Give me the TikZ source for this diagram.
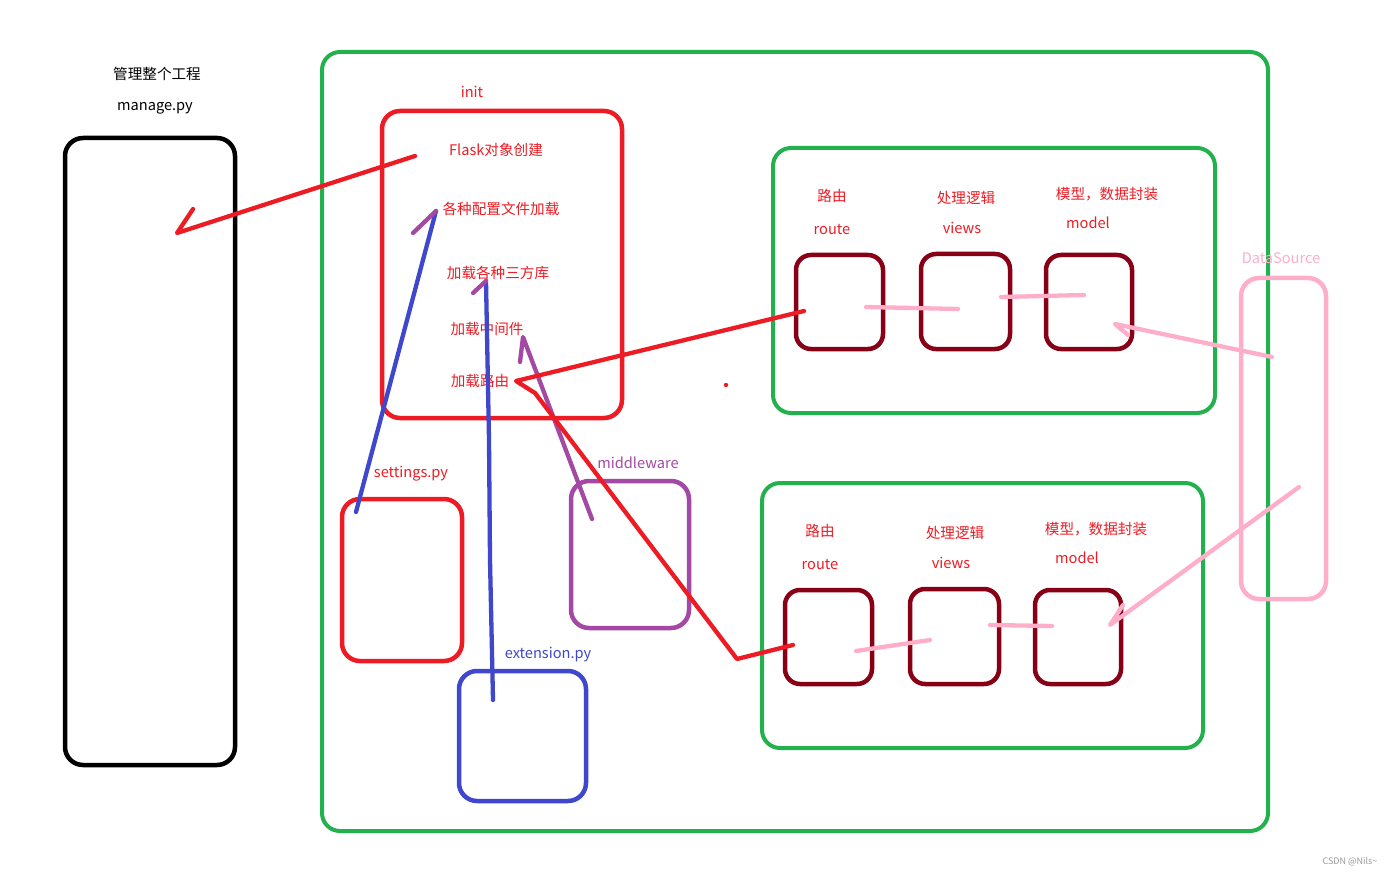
\documentclass[tikz,border=0pt]{standalone}
\usepackage{fontspec}
\setmainfont{Noto Sans CJK SC}
\definecolor{pred}{HTML}{ED1C24}
\definecolor{pgreen}{HTML}{22B14C}
\definecolor{pdark}{HTML}{880015}
\definecolor{ppink}{HTML}{FFAEC9}
\definecolor{pblue}{HTML}{3F48CC}
\definecolor{ppurple}{HTML}{A349A4}
\begin{document}
\begin{tikzpicture}[x=1pt,y=-1pt,
  box/.style={draw,rectangle,rounded corners=18pt,inner sep=0pt,line width=4.5pt},
  sbox/.style={draw,rectangle,rounded corners=15pt,inner sep=0pt,line width=4.5pt,color=pdark},
  txt/.style={inner sep=0pt,font=\fontsize{14.6}{16}\selectfont},
  stroke/.style={line width=4.3pt,line cap=round,line join=round}]
\useasboundingbox[fill=white] (0,0) rectangle (1397,877);

% manage.py
\node[box,draw=black,minimum width=170pt,minimum height=627pt] (manage) at (150,451.5) {};
\node[txt] (mt1) at (157,74) {管理整个工程};
\node[txt] (mt2) at (155,108) {manage.py};

% big green
\node[box,draw=pgreen,line width=4pt,minimum width=946pt,minimum height=779pt] (app) at (795,441.5) {};

% init
\node[box,draw=pred,minimum width=240pt,minimum height=307pt] (init) at (502,264.5) {};
\node[txt,text=pred] (initl) at (472,92) {init};
\node[txt,text=pred] (i1) at (496,150) {Flask对象创建};
\node[txt,text=pred] (i2) at (501,209) {各种配置文件加载};
\node[txt,text=pred] (i3) at (498,273) {加载各种三方库};
\node[txt,text=pred] (i4) at (487,329) {加载中间件};
\node[txt,text=pred] (i5) at (480,381) {加载路由};

% settings, extension, middleware
\node[box,draw=pred,minimum width=120pt,minimum height=162pt] (settings) at (402,580) {};
\node[txt,text=pred] (setl) at (411,474) {settings.py};
\node[box,draw=pblue,minimum width=127pt,minimum height=130pt] (ext) at (522.5,736) {};
\node[txt,text=pblue] (extl) at (548,655) {extension.py};
\node[box,draw=ppurple,minimum width=118pt,minimum height=147pt] (mid) at (630,554.5) {};
\node[txt,text=ppurple] (midl) at (638,463) {middleware};

% top app
\node[box,draw=pgreen,line width=4pt,minimum width=442pt,minimum height=265pt] (appA) at (994,280.5) {};
\node[txt,text=pred] (a1) at (832,196) {路由};
\node[txt,text=pred] (a2) at (832,230) {route};
\node[txt,text=pred] (a3) at (966,198) {处理逻辑};
\node[txt,text=pred] (a4) at (962,228) {views};
\node[txt,text=pred] (a5) at (1107,194) {模型，数据封装};
\node[txt,text=pred] (a6) at (1088,223) {model};
\node[sbox,minimum width=87pt,minimum height=94pt] (ra) at (839.5,302) {};
\node[sbox,minimum width=89pt,minimum height=95pt] (va) at (965.5,301.5) {};
\node[sbox,minimum width=86pt,minimum height=94pt] (ma) at (1089,302) {};

% bottom app
\node[box,draw=pgreen,line width=4pt,minimum width=441pt,minimum height=265pt] (appB) at (982.5,615.5) {};
\node[txt,text=pred] (b1) at (820,531) {路由};
\node[txt,text=pred] (b2) at (820,565) {route};
\node[txt,text=pred] (b3) at (955,533) {处理逻辑};
\node[txt,text=pred] (b4) at (951,563) {views};
\node[txt,text=pred] (b5) at (1096,529) {模型，数据封装};
\node[txt,text=pred] (b6) at (1077,558) {model};
\node[sbox,minimum width=87pt,minimum height=94pt] (rb) at (828.5,637) {};
\node[sbox,minimum width=89pt,minimum height=95pt] (vb) at (954.5,636.5) {};
\node[sbox,minimum width=86pt,minimum height=94pt] (mb) at (1078,637) {};

% DataSource
\node[box,draw=ppink,minimum width=85pt,minimum height=321pt] (ds) at (1283.5,438.5) {};
\node[txt,text=ppink] (dsl) at (1281,258) {DataSource};

% connector coordinates
\coordinate (f1) at (415,156);
\coordinate (m1) at (177,233);
\coordinate (m2) at (193,209);
\coordinate (s1) at (356,512);
\coordinate (s2) at (436,211);
\coordinate (s3) at (413,233);
\coordinate (e1) at (493,700);
\coordinate (e2) at (486,281);
\coordinate (e3) at (473,293);
\coordinate (md1) at (592,519);
\coordinate (md2) at (523,337);
\coordinate (md3) at (520,362);
\coordinate (r0) at (516,381);
\coordinate (ra1) at (804,311);
\coordinate (rb1) at (793,645);
\coordinate (pa1) at (866,307);
\coordinate (pa2) at (958,309);
\coordinate (pa3) at (1001,297);
\coordinate (pa4) at (1084,295);
\coordinate (pa5) at (1272,357);
\coordinate (pa6) at (1115,324);
\coordinate (pa7) at (1128,335);
\coordinate (pb1) at (856,651);
\coordinate (pb2) at (930,640);
\coordinate (pb3) at (990,625);
\coordinate (pb4) at (1052,626);
\coordinate (pb5) at (1299,487);
\coordinate (pb6) at (1110,625);
\coordinate (pb7) at (1123,605);

% connectors
\draw[stroke,pred] (f1) -- (m1) -- (m2);
\draw[stroke,pblue] (s1) -- (s2);
\draw[stroke,ppurple] (s3) -- (s2);
\draw[stroke,pblue] (e1) -- (490,560) -- (489,440) -- (e2);
\draw[stroke,ppurple] (e3) -- (e2);
\draw[stroke,ppurple] (md1) -- (md2) -- (md3);
\draw[stroke,pred] (ra1) -- (r0) -- (535,393) -- (737,659) -- (rb1);
\fill[pred] (726,385) circle (2.2pt);
\draw[stroke,ppink] (pa1) -- (pa2);
\draw[stroke,ppink] (pa3) -- (pa4);
\draw[stroke,ppink] (pa5) -- (pa6) -- (pa7);
\draw[stroke,ppink] (pb1) -- (pb2);
\draw[stroke,ppink] (pb3) -- (pb4);
\draw[stroke,ppink] (pb5) -- (pb6) -- (pb7);

\node[inner sep=0pt,text=gray!80,font=\fontsize{9}{10}\selectfont] (wm) at (1350,862) {CSDN @Nils\textasciitilde};
\end{tikzpicture}
\end{document}
